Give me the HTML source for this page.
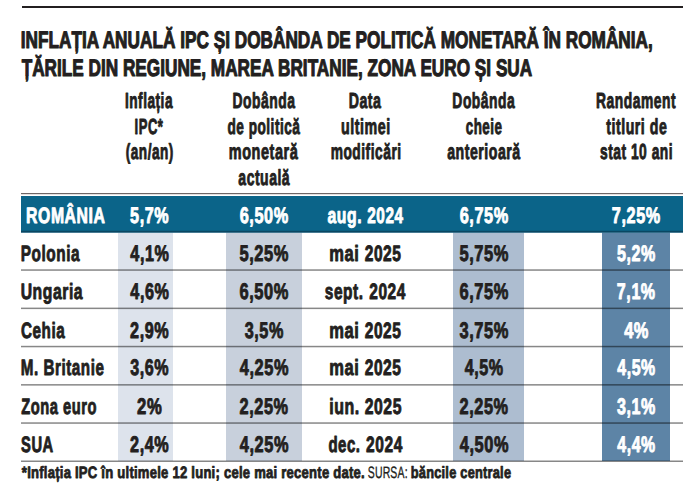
<!DOCTYPE html>
<html lang="ro"><head><meta charset="utf-8"><title>Inflația anuală IPC și dobânda de politică monetară</title>
<style>
html,body{margin:0;padding:0;background:#fff;}
body{width:699px;height:490px;overflow:hidden;}
svg{display:block;}
text{font-family:"Liberation Sans", sans-serif;text-rendering:geometricPrecision;}
</style></head><body>
<svg width="699" height="490" viewBox="0 0 699 490">
<rect x="22" y="6" width="661" height="2" fill="#231f20"/>
<rect x="21" y="193" width="662" height="1.2" fill="#6f6666"/>
<rect x="118" y="232.5" width="55" height="228.5" fill="#dde3ec"/>
<rect x="226" y="232.5" width="76" height="228.5" fill="#c8d0dc"/>
<rect x="453" y="232.5" width="71" height="228.5" fill="#adbdd0"/>
<rect x="602" y="232.5" width="68" height="228.5" fill="#5d84a6"/>
<rect x="21" y="196" width="662" height="36.5" fill="#0b6489"/>
<rect x="21" y="230.8" width="662" height="1.7" fill="#0a4762"/>
<g fill="#000" fill-opacity="0.47">
<rect x="21" y="269.3" width="662" height="1.5"/>
<rect x="21" y="307.6" width="662" height="1.5"/>
<rect x="21" y="345.8" width="662" height="1.5"/>
<rect x="21" y="384.1" width="662" height="1.5"/>
<rect x="21" y="422.3" width="662" height="1.5"/>
<rect x="21" y="460.5" width="662" height="1.5"/>
</g>

<text x="20.74" y="48.00" textLength="632.09" lengthAdjust="spacingAndGlyphs" style="font-size:23.80px;font-weight:bold;fill:#231f20;stroke:#231f20;stroke-width:1.10px;stroke-linejoin:round">INFLAȚIA ANUALĂ IPC ȘI DOBÂNDA DE POLITICĂ MONETARĂ ÎN ROMÂNIA,</text>
<text x="21.64" y="76.00" textLength="510.57" lengthAdjust="spacingAndGlyphs" style="font-size:23.80px;font-weight:bold;fill:#231f20;stroke:#231f20;stroke-width:1.10px;stroke-linejoin:round">ȚĂRILE DIN REGIUNE, MAREA BRITANIE, ZONA EURO ȘI SUA</text>
<text x="124.91" y="108.00" textLength="48.13" lengthAdjust="spacingAndGlyphs" style="font-size:21.80px;font-weight:bold;fill:#231f20;stroke:#231f20;stroke-width:0.90px;stroke-linejoin:round;letter-spacing:0.80px">Inflația</text>
<text x="134.62" y="134.00" textLength="28.71" lengthAdjust="spacingAndGlyphs" style="font-size:21.80px;font-weight:bold;fill:#231f20;stroke:#231f20;stroke-width:0.90px;stroke-linejoin:round;letter-spacing:0.80px">IPC*</text>
<text x="125.78" y="159.00" textLength="48.04" lengthAdjust="spacingAndGlyphs" style="font-size:21.80px;font-weight:bold;fill:#231f20;stroke:#231f20;stroke-width:0.90px;stroke-linejoin:round;letter-spacing:0.80px">(an/an)</text>
<text x="232.54" y="108.00" textLength="62.89" lengthAdjust="spacingAndGlyphs" style="font-size:21.80px;font-weight:bold;fill:#231f20;stroke:#231f20;stroke-width:0.90px;stroke-linejoin:round;letter-spacing:0.80px">Dobânda</text>
<text x="227.47" y="134.00" textLength="72.93" lengthAdjust="spacingAndGlyphs" style="font-size:21.80px;font-weight:bold;fill:#231f20;stroke:#231f20;stroke-width:0.90px;stroke-linejoin:round;letter-spacing:0.80px">de politică</text>
<text x="228.81" y="159.00" textLength="69.44" lengthAdjust="spacingAndGlyphs" style="font-size:21.80px;font-weight:bold;fill:#231f20;stroke:#231f20;stroke-width:0.90px;stroke-linejoin:round;letter-spacing:0.80px">monetară</text>
<text x="238.36" y="185.00" textLength="51.80" lengthAdjust="spacingAndGlyphs" style="font-size:21.80px;font-weight:bold;fill:#231f20;stroke:#231f20;stroke-width:0.90px;stroke-linejoin:round;letter-spacing:0.80px">actuală</text>
<text x="348.67" y="108.00" textLength="32.79" lengthAdjust="spacingAndGlyphs" style="font-size:21.80px;font-weight:bold;fill:#231f20;stroke:#231f20;stroke-width:0.90px;stroke-linejoin:round;letter-spacing:0.80px">Data</text>
<text x="341.11" y="134.00" textLength="49.64" lengthAdjust="spacingAndGlyphs" style="font-size:21.80px;font-weight:bold;fill:#231f20;stroke:#231f20;stroke-width:0.90px;stroke-linejoin:round;letter-spacing:0.80px">ultimei</text>
<text x="330.64" y="159.00" textLength="71.00" lengthAdjust="spacingAndGlyphs" style="font-size:21.80px;font-weight:bold;fill:#231f20;stroke:#231f20;stroke-width:0.90px;stroke-linejoin:round;letter-spacing:0.80px">modificări</text>
<text x="452.36" y="108.00" textLength="62.91" lengthAdjust="spacingAndGlyphs" style="font-size:21.80px;font-weight:bold;fill:#231f20;stroke:#231f20;stroke-width:0.90px;stroke-linejoin:round;letter-spacing:0.80px">Dobânda</text>
<text x="465.69" y="134.00" textLength="36.79" lengthAdjust="spacingAndGlyphs" style="font-size:21.80px;font-weight:bold;fill:#231f20;stroke:#231f20;stroke-width:0.90px;stroke-linejoin:round;letter-spacing:0.80px">cheie</text>
<text x="447.17" y="159.00" textLength="73.56" lengthAdjust="spacingAndGlyphs" style="font-size:21.80px;font-weight:bold;fill:#231f20;stroke:#231f20;stroke-width:0.90px;stroke-linejoin:round;letter-spacing:0.80px">anterioară</text>
<text x="595.96" y="108.00" textLength="80.20" lengthAdjust="spacingAndGlyphs" style="font-size:21.80px;font-weight:bold;fill:#231f20;stroke:#231f20;stroke-width:0.90px;stroke-linejoin:round;letter-spacing:0.80px">Randament</text>
<text x="606.29" y="134.00" textLength="61.04" lengthAdjust="spacingAndGlyphs" style="font-size:21.80px;font-weight:bold;fill:#231f20;stroke:#231f20;stroke-width:0.90px;stroke-linejoin:round;letter-spacing:0.80px">titluri de</text>
<text x="599.96" y="159.00" textLength="73.19" lengthAdjust="spacingAndGlyphs" style="font-size:21.80px;font-weight:bold;fill:#231f20;stroke:#231f20;stroke-width:0.90px;stroke-linejoin:round;letter-spacing:0.80px">stat 10 ani</text>
<text x="26.12" y="223.00" textLength="79.31" lengthAdjust="spacingAndGlyphs" style="font-size:22.20px;font-weight:bold;fill:#ffffff;stroke:#ffffff;stroke-width:0.90px;stroke-linejoin:round;letter-spacing:0.80px">ROMÂNIA</text>
<text x="130.09" y="223.00" textLength="39.06" lengthAdjust="spacingAndGlyphs" style="font-size:22.50px;font-weight:bold;fill:#ffffff;stroke:#ffffff;stroke-width:0.90px;stroke-linejoin:round;letter-spacing:0.80px">5,7%</text>
<text x="239.72" y="223.00" textLength="49.06" lengthAdjust="spacingAndGlyphs" style="font-size:22.50px;font-weight:bold;fill:#ffffff;stroke:#ffffff;stroke-width:0.90px;stroke-linejoin:round;letter-spacing:0.80px">6,50%</text>
<text x="327.45" y="223.00" textLength="34.66" lengthAdjust="spacingAndGlyphs" style="font-size:22.20px;font-weight:bold;fill:#ffffff;stroke:#ffffff;stroke-width:0.90px;stroke-linejoin:round;letter-spacing:0.80px">aug.</text>
<text x="367.25" y="223.00" textLength="36.27" lengthAdjust="spacingAndGlyphs" style="font-size:22.20px;font-weight:bold;fill:#ffffff;stroke:#ffffff;stroke-width:0.90px;stroke-linejoin:round;letter-spacing:0.80px">2024</text>
<text x="459.72" y="223.00" textLength="49.06" lengthAdjust="spacingAndGlyphs" style="font-size:22.50px;font-weight:bold;fill:#ffffff;stroke:#ffffff;stroke-width:0.90px;stroke-linejoin:round;letter-spacing:0.80px">6,75%</text>
<text x="611.87" y="223.00" textLength="48.89" lengthAdjust="spacingAndGlyphs" style="font-size:22.50px;font-weight:bold;fill:#ffffff;stroke:#ffffff;stroke-width:0.90px;stroke-linejoin:round;letter-spacing:0.80px">7,25%</text>
<text x="20.78" y="261.00" textLength="59.34" lengthAdjust="spacingAndGlyphs" style="font-size:22.20px;font-weight:bold;fill:#231f20;stroke:#231f20;stroke-width:0.90px;stroke-linejoin:round;letter-spacing:0.80px">Polonia</text>
<text x="130.36" y="261.00" textLength="39.15" lengthAdjust="spacingAndGlyphs" style="font-size:22.50px;font-weight:bold;fill:#231f20;stroke:#231f20;stroke-width:0.90px;stroke-linejoin:round;letter-spacing:0.80px">4,1%</text>
<text x="239.42" y="261.00" textLength="49.66" lengthAdjust="spacingAndGlyphs" style="font-size:22.50px;font-weight:bold;fill:#231f20;stroke:#231f20;stroke-width:0.90px;stroke-linejoin:round;letter-spacing:0.80px">5,25%</text>
<text x="329.16" y="261.00" textLength="30.23" lengthAdjust="spacingAndGlyphs" style="font-size:22.20px;font-weight:bold;fill:#231f20;stroke:#231f20;stroke-width:0.90px;stroke-linejoin:round;letter-spacing:0.80px">mai</text>
<text x="364.71" y="261.00" textLength="36.76" lengthAdjust="spacingAndGlyphs" style="font-size:22.20px;font-weight:bold;fill:#231f20;stroke:#231f20;stroke-width:0.90px;stroke-linejoin:round;letter-spacing:0.80px">2025</text>
<text x="459.42" y="261.00" textLength="49.66" lengthAdjust="spacingAndGlyphs" style="font-size:22.50px;font-weight:bold;fill:#231f20;stroke:#231f20;stroke-width:0.90px;stroke-linejoin:round;letter-spacing:0.80px">5,75%</text>
<text x="616.99" y="261.00" textLength="38.84" lengthAdjust="spacingAndGlyphs" style="font-size:22.50px;font-weight:bold;fill:#ffffff;stroke:#ffffff;stroke-width:0.90px;stroke-linejoin:round;letter-spacing:0.80px">5,2%</text>
<text x="20.68" y="299.00" textLength="62.52" lengthAdjust="spacingAndGlyphs" style="font-size:22.20px;font-weight:bold;fill:#231f20;stroke:#231f20;stroke-width:0.90px;stroke-linejoin:round;letter-spacing:0.80px">Ungaria</text>
<text x="130.36" y="299.00" textLength="39.15" lengthAdjust="spacingAndGlyphs" style="font-size:22.50px;font-weight:bold;fill:#231f20;stroke:#231f20;stroke-width:0.90px;stroke-linejoin:round;letter-spacing:0.80px">4,6%</text>
<text x="239.44" y="299.00" textLength="49.55" lengthAdjust="spacingAndGlyphs" style="font-size:22.50px;font-weight:bold;fill:#231f20;stroke:#231f20;stroke-width:0.90px;stroke-linejoin:round;letter-spacing:0.80px">6,50%</text>
<text x="324.81" y="299.00" textLength="38.84" lengthAdjust="spacingAndGlyphs" style="font-size:22.20px;font-weight:bold;fill:#231f20;stroke:#231f20;stroke-width:0.90px;stroke-linejoin:round;letter-spacing:0.80px">sept.</text>
<text x="369.23" y="299.00" textLength="36.72" lengthAdjust="spacingAndGlyphs" style="font-size:22.20px;font-weight:bold;fill:#231f20;stroke:#231f20;stroke-width:0.90px;stroke-linejoin:round;letter-spacing:0.80px">2024</text>
<text x="459.44" y="299.00" textLength="49.55" lengthAdjust="spacingAndGlyphs" style="font-size:22.50px;font-weight:bold;fill:#231f20;stroke:#231f20;stroke-width:0.90px;stroke-linejoin:round;letter-spacing:0.80px">6,75%</text>
<text x="616.86" y="299.00" textLength="38.85" lengthAdjust="spacingAndGlyphs" style="font-size:22.50px;font-weight:bold;fill:#ffffff;stroke:#ffffff;stroke-width:0.90px;stroke-linejoin:round;letter-spacing:0.80px">7,1%</text>
<text x="20.93" y="338.00" textLength="44.31" lengthAdjust="spacingAndGlyphs" style="font-size:22.20px;font-weight:bold;fill:#231f20;stroke:#231f20;stroke-width:0.90px;stroke-linejoin:round;letter-spacing:0.80px">Cehia</text>
<text x="130.07" y="338.00" textLength="39.29" lengthAdjust="spacingAndGlyphs" style="font-size:22.50px;font-weight:bold;fill:#231f20;stroke:#231f20;stroke-width:0.90px;stroke-linejoin:round;letter-spacing:0.80px">2,9%</text>
<text x="244.67" y="338.00" textLength="39.19" lengthAdjust="spacingAndGlyphs" style="font-size:22.50px;font-weight:bold;fill:#231f20;stroke:#231f20;stroke-width:0.90px;stroke-linejoin:round;letter-spacing:0.80px">3,5%</text>
<text x="329.16" y="338.00" textLength="30.23" lengthAdjust="spacingAndGlyphs" style="font-size:22.20px;font-weight:bold;fill:#231f20;stroke:#231f20;stroke-width:0.90px;stroke-linejoin:round;letter-spacing:0.80px">mai</text>
<text x="364.71" y="338.00" textLength="36.76" lengthAdjust="spacingAndGlyphs" style="font-size:22.20px;font-weight:bold;fill:#231f20;stroke:#231f20;stroke-width:0.90px;stroke-linejoin:round;letter-spacing:0.80px">2025</text>
<text x="459.44" y="338.00" textLength="49.62" lengthAdjust="spacingAndGlyphs" style="font-size:22.50px;font-weight:bold;fill:#231f20;stroke:#231f20;stroke-width:0.90px;stroke-linejoin:round;letter-spacing:0.80px">3,75%</text>
<text x="624.13" y="338.00" textLength="24.87" lengthAdjust="spacingAndGlyphs" style="font-size:22.50px;font-weight:bold;fill:#ffffff;stroke:#ffffff;stroke-width:0.90px;stroke-linejoin:round;letter-spacing:0.80px">4%</text>
<text x="20.71" y="375.00" textLength="83.71" lengthAdjust="spacingAndGlyphs" style="font-size:22.20px;font-weight:bold;fill:#231f20;stroke:#231f20;stroke-width:0.90px;stroke-linejoin:round;letter-spacing:0.80px">M. Britanie</text>
<text x="130.25" y="375.00" textLength="38.97" lengthAdjust="spacingAndGlyphs" style="font-size:22.50px;font-weight:bold;fill:#231f20;stroke:#231f20;stroke-width:0.90px;stroke-linejoin:round;letter-spacing:0.80px">3,6%</text>
<text x="239.80" y="375.00" textLength="49.24" lengthAdjust="spacingAndGlyphs" style="font-size:22.50px;font-weight:bold;fill:#231f20;stroke:#231f20;stroke-width:0.90px;stroke-linejoin:round;letter-spacing:0.80px">4,25%</text>
<text x="329.16" y="375.00" textLength="30.23" lengthAdjust="spacingAndGlyphs" style="font-size:22.20px;font-weight:bold;fill:#231f20;stroke:#231f20;stroke-width:0.90px;stroke-linejoin:round;letter-spacing:0.80px">mai</text>
<text x="364.71" y="375.00" textLength="36.76" lengthAdjust="spacingAndGlyphs" style="font-size:22.20px;font-weight:bold;fill:#231f20;stroke:#231f20;stroke-width:0.90px;stroke-linejoin:round;letter-spacing:0.80px">2025</text>
<text x="464.76" y="375.00" textLength="39.01" lengthAdjust="spacingAndGlyphs" style="font-size:22.50px;font-weight:bold;fill:#231f20;stroke:#231f20;stroke-width:0.90px;stroke-linejoin:round;letter-spacing:0.80px">4,5%</text>
<text x="617.32" y="375.00" textLength="38.43" lengthAdjust="spacingAndGlyphs" style="font-size:22.50px;font-weight:bold;fill:#ffffff;stroke:#ffffff;stroke-width:0.90px;stroke-linejoin:round;letter-spacing:0.80px">4,5%</text>
<text x="21.15" y="414.00" textLength="75.82" lengthAdjust="spacingAndGlyphs" style="font-size:22.20px;font-weight:bold;fill:#231f20;stroke:#231f20;stroke-width:0.90px;stroke-linejoin:round;letter-spacing:0.80px">Zona euro</text>
<text x="137.09" y="414.00" textLength="25.25" lengthAdjust="spacingAndGlyphs" style="font-size:22.50px;font-weight:bold;fill:#231f20;stroke:#231f20;stroke-width:0.90px;stroke-linejoin:round;letter-spacing:0.80px">2%</text>
<text x="239.51" y="414.00" textLength="49.20" lengthAdjust="spacingAndGlyphs" style="font-size:22.50px;font-weight:bold;fill:#231f20;stroke:#231f20;stroke-width:0.90px;stroke-linejoin:round;letter-spacing:0.80px">2,25%</text>
<text x="329.18" y="414.00" textLength="30.70" lengthAdjust="spacingAndGlyphs" style="font-size:22.20px;font-weight:bold;fill:#231f20;stroke:#231f20;stroke-width:0.90px;stroke-linejoin:round;letter-spacing:0.80px">iun.</text>
<text x="364.69" y="414.00" textLength="37.34" lengthAdjust="spacingAndGlyphs" style="font-size:22.20px;font-weight:bold;fill:#231f20;stroke:#231f20;stroke-width:0.90px;stroke-linejoin:round;letter-spacing:0.80px">2025</text>
<text x="459.51" y="414.00" textLength="49.20" lengthAdjust="spacingAndGlyphs" style="font-size:22.50px;font-weight:bold;fill:#231f20;stroke:#231f20;stroke-width:0.90px;stroke-linejoin:round;letter-spacing:0.80px">2,25%</text>
<text x="616.98" y="414.00" textLength="38.86" lengthAdjust="spacingAndGlyphs" style="font-size:22.50px;font-weight:bold;fill:#ffffff;stroke:#ffffff;stroke-width:0.90px;stroke-linejoin:round;letter-spacing:0.80px">3,1%</text>
<text x="21.09" y="452.00" textLength="32.66" lengthAdjust="spacingAndGlyphs" style="font-size:22.20px;font-weight:bold;fill:#231f20;stroke:#231f20;stroke-width:0.90px;stroke-linejoin:round;letter-spacing:0.80px">SUA</text>
<text x="130.07" y="452.00" textLength="39.29" lengthAdjust="spacingAndGlyphs" style="font-size:22.50px;font-weight:bold;fill:#231f20;stroke:#231f20;stroke-width:0.90px;stroke-linejoin:round;letter-spacing:0.80px">2,4%</text>
<text x="239.80" y="452.00" textLength="49.24" lengthAdjust="spacingAndGlyphs" style="font-size:22.50px;font-weight:bold;fill:#231f20;stroke:#231f20;stroke-width:0.90px;stroke-linejoin:round;letter-spacing:0.80px">4,25%</text>
<text x="328.38" y="452.00" textLength="32.20" lengthAdjust="spacingAndGlyphs" style="font-size:22.20px;font-weight:bold;fill:#231f20;stroke:#231f20;stroke-width:0.90px;stroke-linejoin:round;letter-spacing:0.80px">dec.</text>
<text x="366.10" y="452.00" textLength="36.76" lengthAdjust="spacingAndGlyphs" style="font-size:22.20px;font-weight:bold;fill:#231f20;stroke:#231f20;stroke-width:0.90px;stroke-linejoin:round;letter-spacing:0.80px">2024</text>
<text x="459.80" y="452.00" textLength="49.24" lengthAdjust="spacingAndGlyphs" style="font-size:22.50px;font-weight:bold;fill:#231f20;stroke:#231f20;stroke-width:0.90px;stroke-linejoin:round;letter-spacing:0.80px">4,50%</text>
<text x="617.32" y="452.00" textLength="38.43" lengthAdjust="spacingAndGlyphs" style="font-size:22.50px;font-weight:bold;fill:#ffffff;stroke:#ffffff;stroke-width:0.90px;stroke-linejoin:round;letter-spacing:0.80px">4,4%</text>
<text x="21.82" y="478.00" textLength="343.14" lengthAdjust="spacingAndGlyphs" style="font-size:16.50px;font-weight:bold;fill:#231f20;stroke:#231f20;stroke-width:0.80px;stroke-linejoin:round;letter-spacing:0.30px">*Inflația IPC în ultimele 12 luni; cele mai recente date.</text>
<text x="367.73" y="478.00" textLength="40.08" lengthAdjust="spacingAndGlyphs" style="font-size:16.50px;font-weight:normal;fill:#231f20;stroke:#231f20;stroke-width:0.35px;stroke-linejoin:round;letter-spacing:0.30px">SURSA:</text>
<text x="410.76" y="478.00" textLength="100.49" lengthAdjust="spacingAndGlyphs" style="font-size:16.50px;font-weight:bold;fill:#231f20;stroke:#231f20;stroke-width:0.80px;stroke-linejoin:round;letter-spacing:0.30px">băncile centrale</text>
</svg>
</body></html>
